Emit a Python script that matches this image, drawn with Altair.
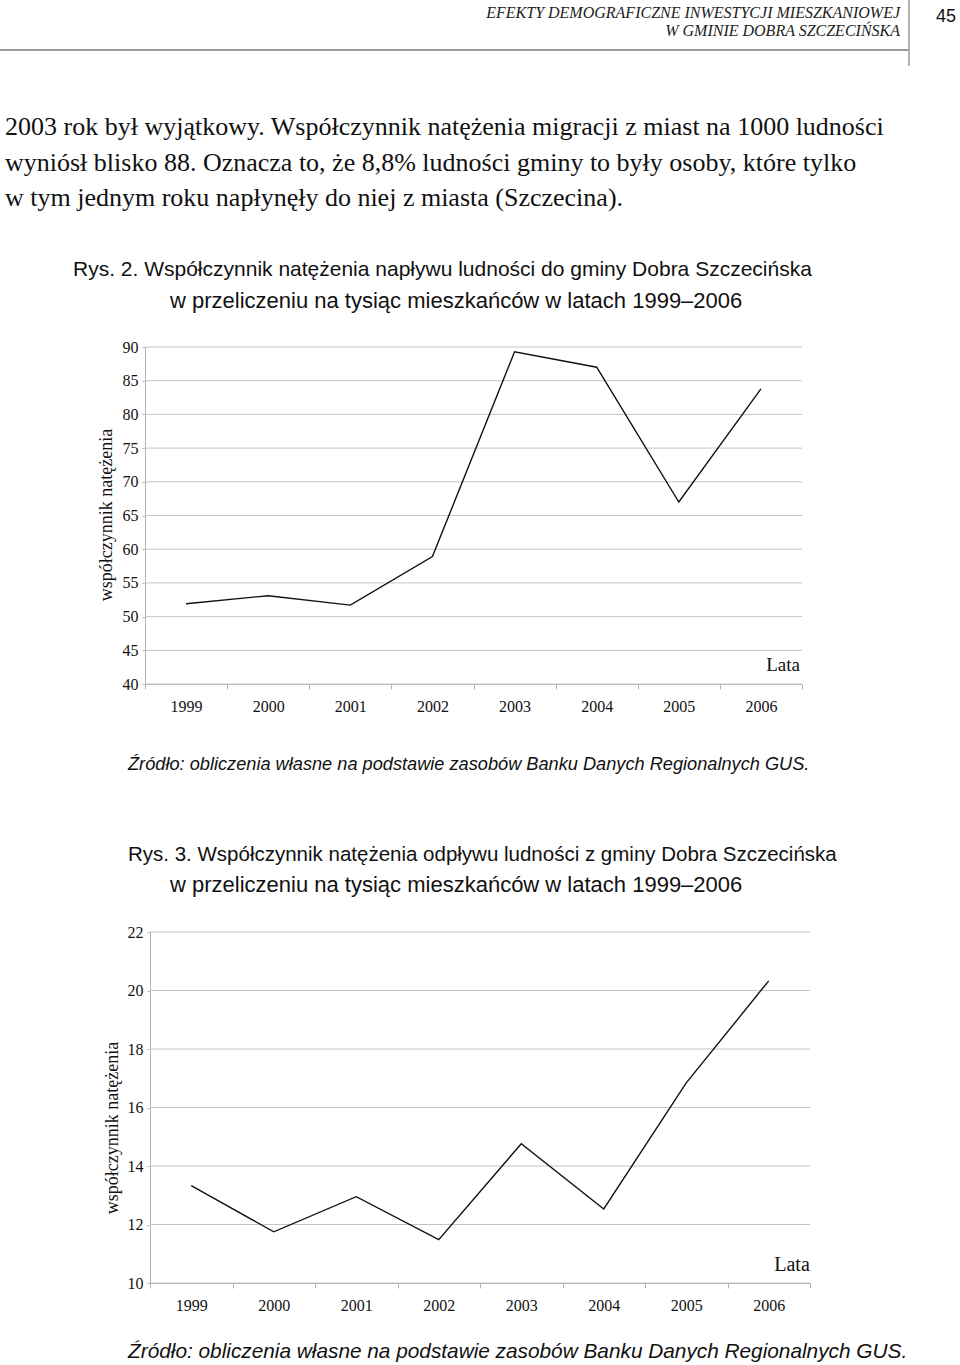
import altair as alt
import pandas as pd

# ---------------- data ----------------
years = ["1999", "2000", "2001", "2002", "2003", "2004", "2005", "2006"]
inflow = [51.9, 53.1, 51.7, 58.9, 89.3, 87.0, 67.0, 83.8]      # Rys. 2
outflow = [13.33, 11.75, 12.95, 11.48, 14.76, 12.53, 16.84, 20.33]  # Rys. 3
ticks1 = [40, 45, 50, 55, 60, 65, 70, 75, 80, 85, 90]
ticks2 = [10, 12, 14, 16, 18, 20, 22]

header1 = "EFEKTY DEMOGRAFICZNE INWESTYCJI MIESZKANIOWEJ"
header2 = "W GMINIE DOBRA SZCZECIŃSKA"
page_no = "45"
body = [
    "2003 rok był wyjątkowy. Współczynnik natężenia migracji z miast na 1000 ludności",
    "wyniósł blisko 88. Oznacza to, że 8,8% ludności gminy to były osoby, które tylko",
    "w tym jednym roku napłynęły do niej z miasta (Szczecina).",
]
cap2 = ["Rys. 2. Współczynnik natężenia napływu ludności do gminy Dobra Szczecińska",
        "w przeliczeniu na tysiąc mieszkańców w latach 1999–2006"]
cap3 = ["Rys. 3. Współczynnik natężenia odpływu ludności z gminy Dobra Szczecińska",
        "w przeliczeniu na tysiąc mieszkańców w latach 1999–2006"]
source = "Źródło: obliczenia własne na podstawie zasobów Banku Danych Regionalnych GUS."
ytitle = "współczynnik natężenia"
xtitle = "Lata"

W, H = 960, 1365
SERIF = "Liberation Serif"
SANS = "Liberation Sans"
INK = "#111111"
GRID = "#c4c4c4"
AX = "#b4b4b4"

df1 = pd.DataFrame({"rok": years, "v": inflow})
df2 = pd.DataFrame({"rok": years, "v": outflow})
g1 = pd.DataFrame({"v": ticks1})
g2 = pd.DataFrame({"v": ticks2})

one = alt.Data(values=[{}])


def panel(df, grid_df, ticks, x0, x1, ytop, ybot, dom):
    xenc = alt.X(
        "rok:O",
        scale=alt.Scale(type="band", range=[x0, x1], paddingInner=0, paddingOuter=0),
        bandPosition=0.5,
        axis=alt.Axis(orient="bottom", offset=ybot - H, title=None, labelAngle=0,
                      tickBand="extent", domainColor=AX, tickColor=AX, tickSize=5,
                      labelFont=SERIF, labelFontSize=16, labelColor=INK,
                      labelPadding=9, grid=False),
    )
    yenc = alt.Y(
        "v:Q",
        scale=alt.Scale(domain=dom, range=[ybot, ytop], nice=False, zero=False),
        axis=alt.Axis(orient="left", offset=-x0, title=None, values=ticks,
                      domainColor=AX, tickColor=AX, tickSize=3,
                      labelFont=SERIF, labelFontSize=16, labelColor=INK,
                      labelPadding=4, grid=False),
    )
    grid = alt.Chart(grid_df).mark_rule(color=GRID, strokeWidth=1).encode(
        y=yenc, x=alt.value(x0), x2=alt.value(x1)
    )
    line = alt.Chart(df).mark_line(color=INK, strokeWidth=1.4).encode(x=xenc, y=yenc)
    return alt.layer(grid, line)


p1 = panel(df1, g1, ticks1, 145, 802, 347, 684, [40, 90])
p2 = panel(df2, g2, ticks2, 150, 810, 932, 1283, [10, 22])


def txt(s, x, y, size, font=SERIF, align="left", italic=False, angle=0, color=INK, weight="normal"):
    kw = dict(text=s, font=font, fontSize=size, align=align, baseline="middle",
              color=color, fontWeight=weight)
    if italic:
        kw["fontStyle"] = "italic"
    if angle:
        kw["angle"] = angle
    return alt.Chart(one).mark_text(**kw).encode(x=alt.value(x), y=alt.value(y))


def rule(x, x2, y, y2, color, w):
    return alt.Chart(one).mark_rule(color=color, strokeWidth=w).encode(
        x=alt.value(x), x2=alt.value(x2), y=alt.value(y), y2=alt.value(y2)
    )


texts = [
    txt(header1, 900, 13, 16, italic=True, align="right", color="#222222"),
    txt(header2, 900, 31, 16, italic=True, align="right", color="#222222"),
    txt(page_no, 946, 17, 18, font=SANS, align="center"),
    rule(909, 909, 0, 66, "#666666", 1),
    rule(0, 909, 50, 50, "#9a9a9a", 2),
    txt(body[0], 5, 127, 26),
    txt(body[1], 5, 163, 26),
    txt(body[2], 5, 198, 26),
    txt(cap2[0], 73, 270, 21, font=SANS),
    txt(cap2[1], 170, 301, 22, font=SANS),
    txt(ytitle, 107, 515, 18, angle=270, align="center"),
    txt(xtitle, 783, 665, 19, align="center"),
    txt(source, 128, 765, 18.2, font=SANS, italic=True),
    txt(cap3[0], 128, 855, 20.5, font=SANS),
    txt(cap3[1], 170, 885, 22, font=SANS),
    txt(ytitle, 113, 1128, 18, angle=270, align="center"),
    txt(xtitle, 792, 1265, 20, align="center"),
    txt(source, 128, 1352, 20.8, font=SANS, italic=True),
]

chart = (
    alt.layer(p1, p2, *texts)
    .resolve_scale(x="independent", y="independent")
    .resolve_axis(x="independent", y="independent")
    .properties(width=W, height=H, autosize=alt.AutoSizeParams(type="none"), padding=0,
                background="white")
    .configure_view(strokeWidth=0)
)

chart.save("out.html", embed_options={"renderer": "svg", "actions": False})
